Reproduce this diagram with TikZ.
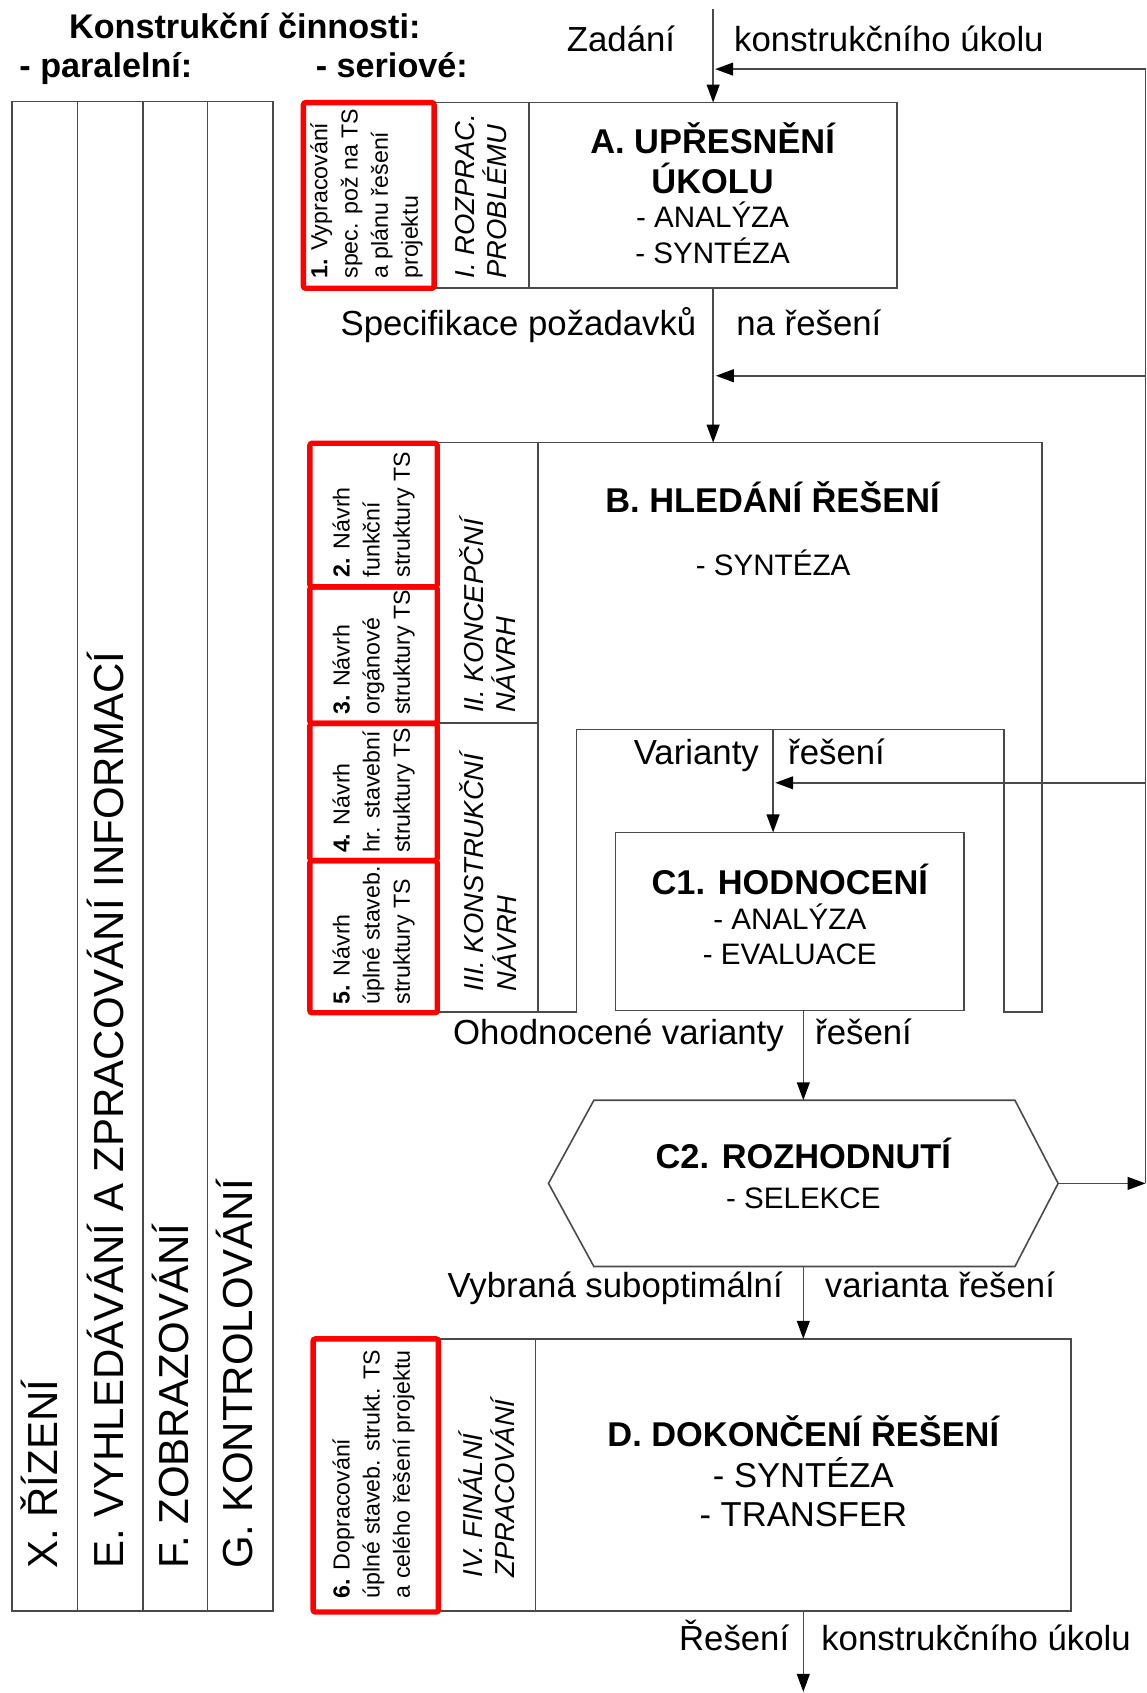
\documentclass[tikz,border=0pt]{standalone}
\usepackage{fontspec}
\setmainfont{Liberation Sans}
\usetikzlibrary{arrows.meta,fit}

\definecolor{inkgray}{HTML}{4A4A4A}
\definecolor{hired}{HTML}{FF0000}

\tikzset{
  box/.style={draw=inkgray, line width=0.8pt, inner sep=0pt, outer sep=0pt},
  redbox/.style={draw=hired, line width=2.7pt, rounded corners=1.2pt, inner sep=0pt, outer sep=0pt},
  ghost/.style={inner sep=0pt, outer sep=0pt},
  wire/.style={draw=inkgray, line width=0.8pt},
  arr/.style={wire, -{Triangle[length=9pt,width=6.4pt,color=black]}},
  txt/.style={inner sep=0pt, outer sep=0pt, text=black},
  lbl/.style={txt, font=\fontsize{17.4}{20}\selectfont},
  head/.style={txt, anchor=base west, font=\bfseries\fontsize{17.1}{20}\selectfont},
  ttl/.style={txt, anchor=base, font=\bfseries\fontsize{17.2}{20}\selectfont},
  sub/.style={txt, anchor=base, font=\fontsize{14.8}{17}\selectfont},
  subD/.style={txt, anchor=base, font=\fontsize{17.3}{20}\selectfont},
  phase/.style={txt, rotate=90, anchor=west, align=left, font=\itshape\fontsize{13.7}{16.2}\selectfont},
  task/.style={txt, rotate=90, anchor=west, align=left, font=\fontsize{11.6}{15.1}\selectfont},
  lane/.style={txt, rotate=90, anchor=base west, font=\fontsize{21}{24}\selectfont},
}

\begin{document}
\begin{tikzpicture}[x=0.54pt, y=-0.54pt]
\useasboundingbox (0,0) rectangle (1062,1568);

% ---------- headings ----------
\node[head] (hKon) at (64,35.5) {Konstrukční činnosti:};
\node[head] (hPar) at (18,72) {- paralelní:};
\node[head] (hSer) at (292.5,72) {- seriové:};

% ---------- parallel activities ----------
\node[box, fit={(11,94) (71.6,1492)}] (P1) {};
\node[box, fit={(71.6,94) (132.7,1492)}] (P2) {};
\node[box, fit={(132.7,94) (192,1492)}] (P3) {};
\node[box, fit={(192,94) (253,1492)}] (P4) {};
\node[lane] (tP1) at (53,1453) {X. ŘÍZENÍ};
\node[lane] (tP2) at (114,1453) {E. VYHLEDÁVÁNÍ A ZPRACOVÁNÍ INFORMACÍ};
\node[lane] (tP3) at (175,1453) {F. ZOBRAZOVÁNÍ};
\node[lane] (tP4) at (234,1453) {G. KONTROLOVÁNÍ};

% ---------- A ----------
\node[box, fit={(402,95) (490,267)}] (M1) {};
\node[box, fit={(490,95) (831,267)}] (A) {};
\node[ttl] (tA1) at (660,142) {A. UPŘESNĚNÍ};
\node[ttl] (tA2) at (660,179) {ÚKOLU};
\node[sub] (tA3) at (660,211) {- ANALÝZA};
\node[sub] (tA4) at (660,244) {- SYNTÉZA};
\node[phase] (tM1) at (445.5,258) {I. ROZPRAC.\\PROBLÉMU};

% ---------- B ----------
\node[box, fit={(405,410) (498,669.5)}] (M2) {};
\node[box, fit={(405,669.5) (498,937)}] (M3) {};
\coordinate (Btl) at (498,410);
\draw[wire] (Btl) -- (965,410) -- (965,937) -- (930,937) -- (930,675.5)
  -- (534,675.5) -- (534,937) -- (498,937) -- cycle;
\node[ttl] (tB1) at (715.5,474.7) {B. HLEDÁNÍ ŘEŠENÍ};
\node[sub] (tB2) at (716,533) {- SYNTÉZA};
\node[phase] (tM2) at (451.5,660) {II. KONCEPČNÍ\\NÁVRH};
\node[phase] (tM3) at (452,918) {III. KONSTRUKČNÍ\\NÁVRH};

% ---------- C1 ----------
\node[box, fit={(570,771) (893,936)}] (C1) {};
\node[ttl] (tC1) at (731.5,828) {C1. HODNOCENÍ};
\node[sub] (tC2) at (731.5,861) {- ANALÝZA};
\node[sub] (tC3) at (731.5,893) {- EVALUACE};

% ---------- C2 ----------
\node[ghost, fit={(508,1019) (980,1173)}] (C2) {};
\draw[wire] (C2.west) -- ([xshift=22.7pt]C2.north west) -- ([xshift=-21.6pt]C2.north east)
  -- (C2.east) -- ([xshift=-21.6pt]C2.south east) -- ([xshift=22.7pt]C2.south west) -- cycle;
\node[ttl] (tC21) at (744,1082) {C2. ROZHODNUTÍ};
\node[sub] (tC22) at (744,1119) {- SELEKCE};

% ---------- D ----------
\node[box, fit={(406,1240) (496,1492)}] (M4) {};
\node[box, fit={(496,1240) (992,1492)}] (D) {};
\node[ttl] (tD1) at (744,1340) {D. DOKONČENÍ ŘEŠENÍ};
\node[subD] (tD2) at (744,1378) {- SYNTÉZA};
\node[subD] (tD3) at (744,1414) {- TRANSFER};
\node[phase] (tM4) at (451,1461) {IV. FINÁLNÍ\\ZPRACOVÁNÍ};

% ---------- serial tasks (red) ----------
\node[redbox, fit={(281,95) (402,267)}] (R1) {};
\node[redbox, fit={(287,410.5) (405,543.5)}] (R2) {};
\node[redbox, fit={(287,543.5) (405,670)}] (R3) {};
\node[redbox, fit={(287,670) (405,797)}] (R4) {};
\node[redbox, fit={(287,797) (405,938)}] (R5) {};
\node[redbox, fit={(290,1240) (406,1493)}] (R6) {};
\node[task] (tR1) at (339.5,258) {\textbf{1.} Vypracování\\spec. pož na TS\\a plánu řešení\\projektu};
\node[task] (tR2) at (346,534.5) {\textbf{2.} Návrh\\funkční\\struktury TS};
\node[task] (tR3) at (346,662) {\textbf{3.} Návrh\\orgánové\\struktury TS};
\node[task] (tR4) at (346,790) {\textbf{4.} Návrh\\hr. stavební\\struktury TS};
\node[task] (tR5) at (346,930) {\textbf{5.} Návrh\\úplné staveb.\\struktury TS};
\node[task] (tR6) at (346,1480) {\textbf{6.} Dopracování\\úplné staveb. strukt. TS\\a celého řešení projektu};

% ---------- flow ----------
\coordinate (top) at (661,8);
\coordinate (rt) at (1061,64);
\coordinate (j1) at (663,348);
\coordinate (vt) at (716,675.5);
\coordinate (j2) at (718,725);
\coordinate (out) at (744,1567);

\draw[arr] (A.north |- top) -- (A.north);
\draw[arr] (A.south) -- (A.south |- Btl);
\draw[arr] (vt) -- (vt |- C1.north);
\draw[arr] (C2.north |- C1.south) -- (C2.north);
\draw[arr] (C2.south) -- (C2.south |- D.north);
\draw[arr] (D.south) -- (D.south |- out);

% feedback
\draw[arr] (C2.east) -- (C2.east -| rt);
\draw[wire] (rt |- C2.east) -- (rt);
\draw[arr] (rt) -- ([xshift=1pt]rt -| A.north);
\draw[arr] (rt |- j1) -- (j1);
\draw[arr] (rt |- j2) -- (j2);

% ---------- flow labels ----------
\node[lbl, anchor=base west] (l1) at (525,48) {Zadání};
\node[lbl, anchor=base west] (l2) at (680,48) {konstrukčního úkolu};
\node[lbl, anchor=base east] (l3) at (645,311) {Specifikace požadavků};
\node[lbl, anchor=base west] (l4) at (682,311) {na řešení};
\node[lbl, anchor=base west] (l5) at (587,708) {Varianty};
\node[lbl, anchor=base west] (l6) at (730,708) {řešení};
\node[lbl, anchor=base east] (l7) at (726,967) {Ohodnocené varianty};
\node[lbl, anchor=base west] (l8) at (755,967) {řešení};
\node[lbl, anchor=base east] (l9) at (725,1202) {Vybraná suboptimální};
\node[lbl, anchor=base west] (l10) at (764,1202) {varianta řešení};
\node[lbl, anchor=base east] (l11) at (731,1529) {Řešení};
\node[lbl, anchor=base west] (l12) at (760.7,1529) {konstrukčního úkolu};
\end{tikzpicture}
\end{document}
